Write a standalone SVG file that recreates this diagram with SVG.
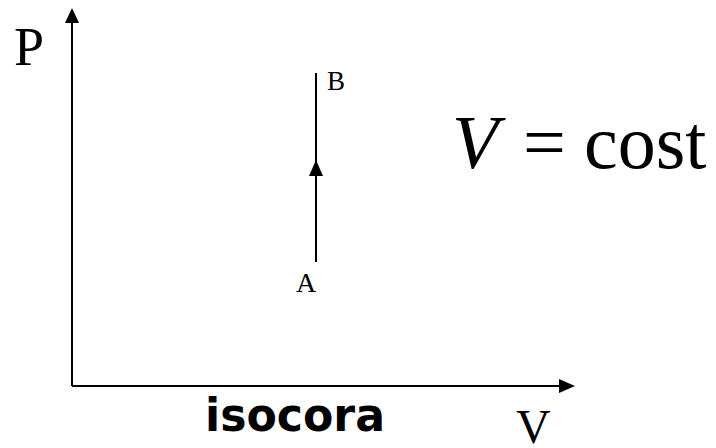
<svg xmlns="http://www.w3.org/2000/svg" width="716" height="448" viewBox="0 0 716 448">
<style>
.ax{stroke:#000;stroke-width:2;fill:none}
.ln{stroke:#000;stroke-width:2;fill:none}
.serif{font-family:"Liberation Serif","Times New Roman",serif;fill:#000}
.lbl{font-family:"DejaVu Sans","Liberation Sans",sans-serif;font-weight:bold;fill:#000}
</style>
<rect width="716" height="448" fill="#fff"/>
<g id="axes">
<line class="ax" x1="72" y1="386" x2="72" y2="20"/>
<polygon points="72,8 65,23 79,23" fill="#000"/>
<line class="ax" x1="72" y1="386" x2="562" y2="386"/>
<polygon points="575,386 559,379 559,393" fill="#000"/>
</g>
<g id="connectors">
<line class="ln" x1="316" y1="73" x2="316" y2="262"/>
<polygon points="316,160 309,176 323,176" fill="#000"/>
</g>
<g id="labels">
<text class="serif" x="14" y="65" font-size="54">P</text>
<text class="serif" x="327" y="90" font-size="27">B</text>
<text class="serif" x="296" y="292" font-size="28">A</text>
<text class="serif" x="452" y="168" font-size="76" font-style="italic">V</text>
<text class="serif" x="523" y="168" font-size="76">=</text>
<text class="serif" x="584" y="168" font-size="76">cost</text>
<text class="lbl" x="205" y="431" font-size="46" textLength="180" lengthAdjust="spacingAndGlyphs">isocora</text>
<text class="serif" x="516" y="443" font-size="48">V</text>
</g>
</svg>
